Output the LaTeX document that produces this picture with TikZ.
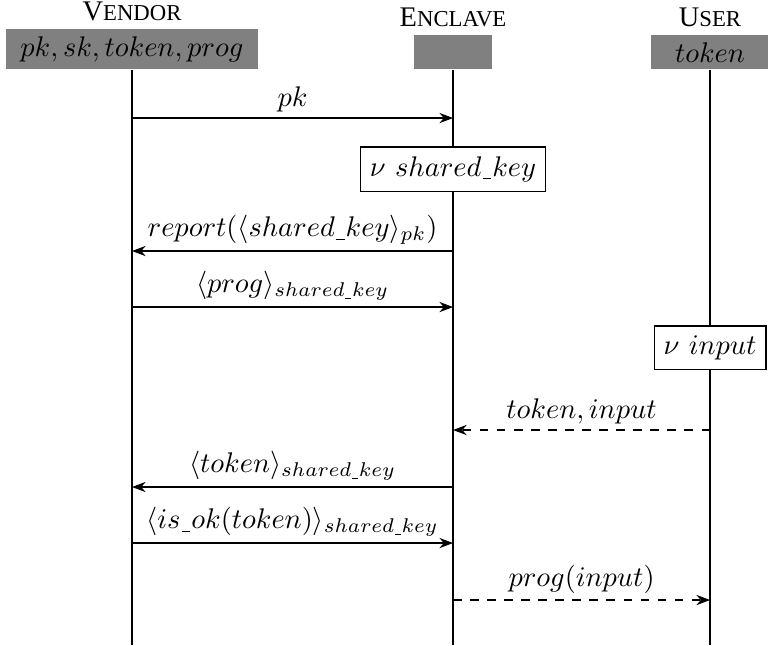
\documentclass[tikz,border=0pt]{standalone}
\usepackage{amsmath}
\usepackage{fontspec}
\newfontfamily\headfont{Liberation Serif}
\usetikzlibrary{arrows.meta}

% short underscore that scales in subscripts
\newcommand{\us}{\text{\kern.04em\vrule width .3em height -.07em depth .11em\kern.04em}}
% small capitals by hand
\newcommand{\hd}[2]{{\headfont #1{\fontsize{8}{9}\selectfont #2}}}

\begin{document}
\begin{tikzpicture}[
    >=Stealth,
    actor/.style = {
      rectangle, fill = black!50, anchor = south,
      inner xsep = 5pt, inner ysep = 2.6pt, minimum height = 12pt,
    },
    head/.style = {above, inner sep = 2.6pt},
    act/.style = {rectangle, draw = black, fill = white},
    lbl/.style = {midway, above, inner sep = 2pt},
    msg/.style = {->},
    reply/.style = {->, dashed},
  ]
  \useasboundingbox (0,0) rectangle (9.5,-7.979);

  % parties
  \node[actor] (V) at (1.633,-0.866) {$pk, sk, token, prog$};
  \node[actor, minimum width = 27.5pt] (E) at (5.604,-0.866) {};
  \node[actor, minimum width = 41.5pt] (U) at (8.783,-0.866) {$token$};
  \node[head] (Vh) at (V.north) {\hd{V}{ENDOR}};
  \node[head] (Eh) at (E.north) {\hd{E}{NCLAVE}};
  \node[head] (Uh) at (U.north) {\hd{U}{SER}};

  % lifelines
  \coordinate (bot) at (0,-7.979);
  \draw (V.south) -- (V.south |- bot);
  \draw (E.south) -- (E.south |- bot);
  \draw (U.south) -- (U.south |- bot);

  % rows
  \coordinate (m1) at (0,-1.460);
  \coordinate (n1) at (0,-2.091);
  \coordinate (m2) at (0,-3.105);
  \coordinate (m3) at (0,-3.798);
  \coordinate (n2) at (0,-4.299);
  \coordinate (m4) at (0,-5.319);
  \coordinate (m5) at (0,-6.024);
  \coordinate (m6) at (0,-6.717);
  \coordinate (m7) at (0,-7.422);

  \draw[msg] (V |- m1) -- (E |- m1) node[lbl] {$pk$};

  \node[act] (key) at (E |- n1) {$\nu\ shared\us key$};

  \draw[msg] (E |- m2) -- (V |- m2)
    node[lbl] {$report(\langle shared\us key\rangle_{pk})$};
  \draw[msg] (V |- m3) -- (E |- m3)
    node[lbl] {$\langle prog\rangle_{shared\us key}$};

  \node[act] (inp) at (U |- n2) {$\nu\ input$};

  \draw[reply] (U |- m4) -- (E |- m4) node[lbl] {$token, input$};
  \draw[msg] (E |- m5) -- (V |- m5)
    node[lbl] {$\langle token\rangle_{shared\us key}$};
  \draw[msg] (V |- m6) -- (E |- m6)
    node[lbl] {$\langle is\us ok(token)\rangle_{shared\us key}$};
  \draw[reply] (E |- m7) -- (U |- m7) node[lbl] {$prog(input)$};
\end{tikzpicture}
\end{document}
